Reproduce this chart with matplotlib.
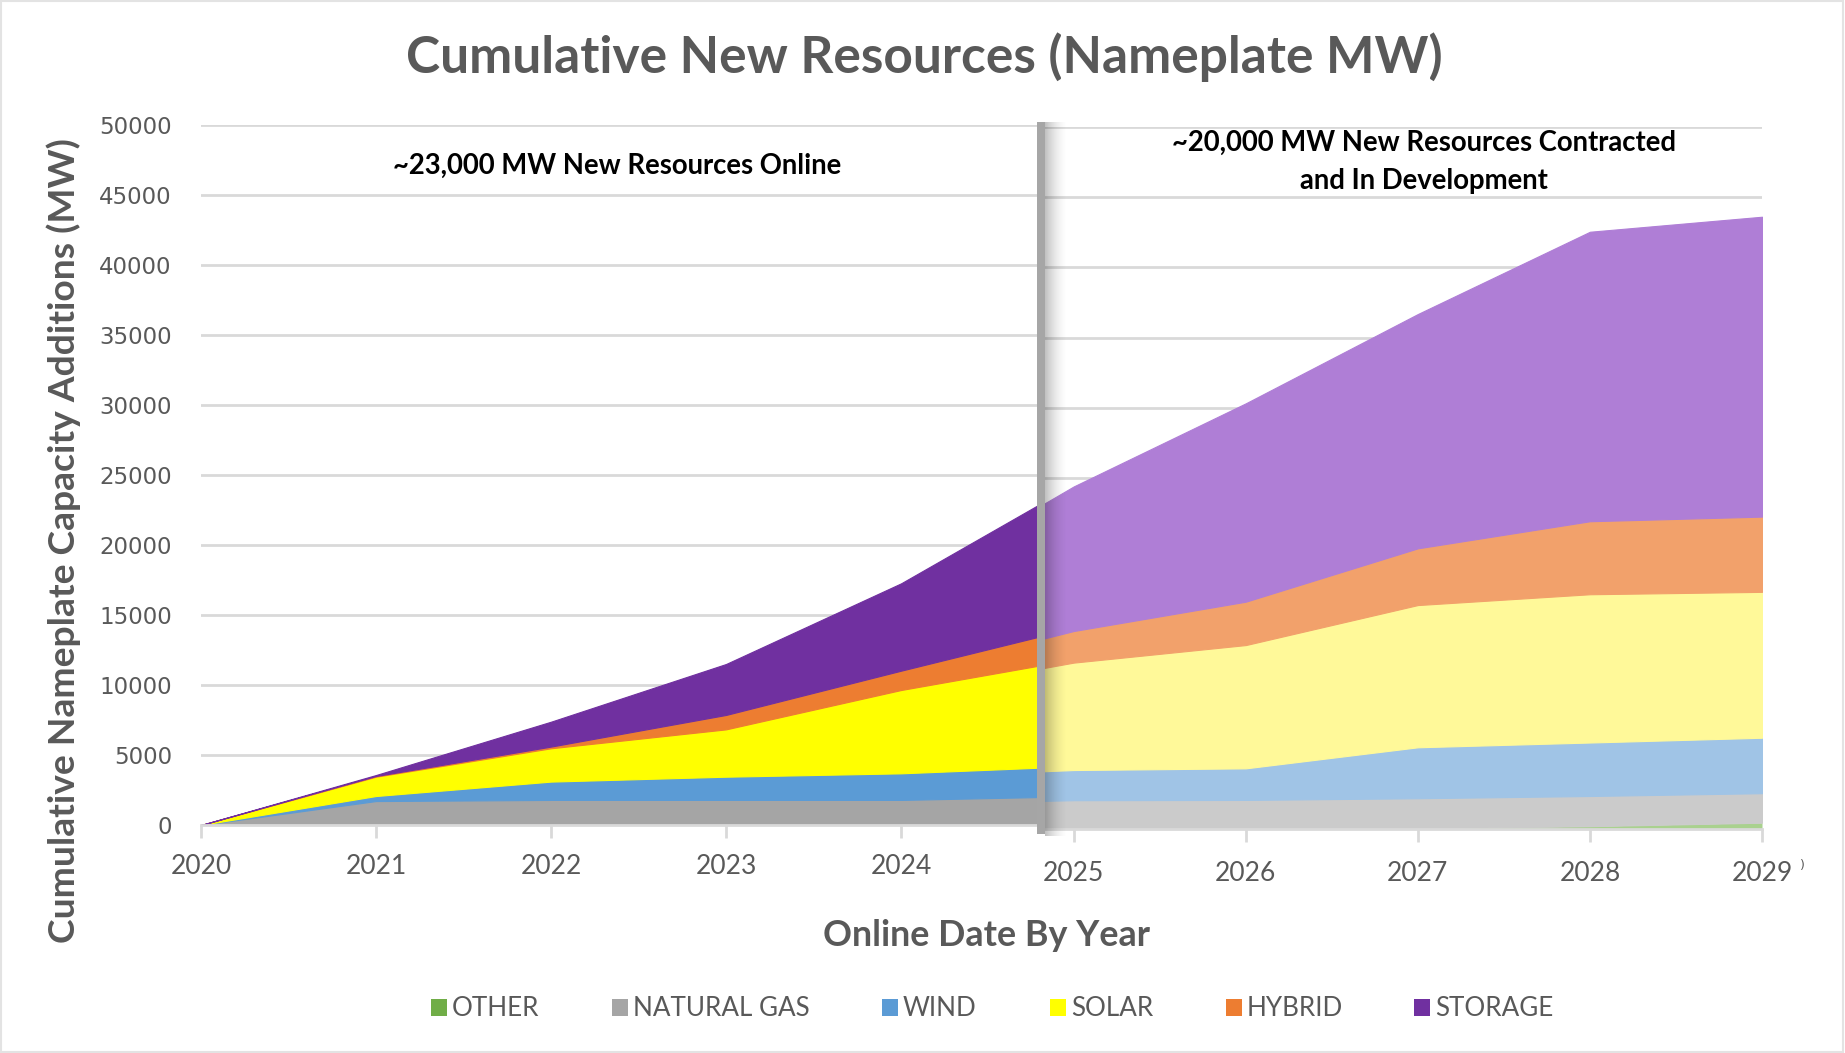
import matplotlib
matplotlib.use("Agg")
import matplotlib.pyplot as plt
from matplotlib.patches import Rectangle

# ---------------- data (MW, cumulative by layer) ----------------
years = [2020, 2021, 2022, 2023, 2024, 2025, 2026, 2027, 2028, 2029]
online_years = [2020, 2021, 2022, 2023, 2024]
development_years = [2025, 2026, 2027, 2028, 2029]
series_names = ["OTHER", "NATURAL GAS", "WIND", "SOLAR", "HYBRID", "STORAGE"]
other = [0, 0, 0, 0, 0, 0, 0, 50, 200, 450]
natural_gas = [0, 1710, 1790, 1790, 1790, 2050, 2070, 2140, 2150, 2100]
wind = [0, 360, 1310, 1660, 1900, 2150, 2250, 3630, 3810, 3950]
solar = [0, 1380, 2380, 3380, 5950, 7650, 8780, 10130, 10560, 10390]
hybrid = [0, 50, 120, 1030, 1380, 2250, 3090, 4040, 5200, 5360]
storage = [0, 70, 1780, 3640, 6240, 10300, 14130, 16690, 20620, 21360]
y_ticks = list(range(0, 50001, 5000))

title = "Cumulative New Resources (Nameplate MW)"
y_label = "Cumulative Nameplate Capacity Additions (MW)"
x_label = "Online Date By Year"
note_online = "~23,000 MW New Resources Online"
note_dev = ["~20,000 MW New Resources Contracted", "and In Development"]

colors_online = ["#70AD47", "#A5A5A5", "#5B9BD5", "#FFFF00", "#ED7D31", "#7030A0"]
colors_dev = ["#A9D18E", "#CBCBCB", "#A0C4E6", "#FFF999", "#F2A16B", "#AF7ED6"]

TXT = "#595959"
GRID = "#D9D9D9"
HEAD_FONT = "Lato"
W, H = 1845, 1053

fig = plt.figure(figsize=(W / 100, H / 100), dpi=100)
fig.patch.set_facecolor("white")
renderer = fig.canvas.get_renderer()


def px_axes(x0, x1, ytop, ybot, **kw):
    return fig.add_axes([x0 / W, 1 - ybot / H, (x1 - x0) / W, (ybot - ytop) / H], **kw)


def fit_size(s, target, family, weight="normal"):
    t = fig.text(0, 0, s, fontsize=20, family=family, weight=weight)
    bb = t.get_window_extent(renderer)
    t.remove()
    return 20 * target / bb.width


def fit_text(cx, cy, s, target, family, weight="normal", color=TXT, rotation=0, ha="center"):
    size = fit_size(s, target, family, weight)
    return fig.text(cx / W, 1 - cy / H, s, fontsize=size, family=family, weight=weight,
                    color=color, ha=ha, va="center", rotation=rotation)


stack = [other, natural_gas, wind, solar, hybrid, storage]

# left (online) and right (in development) panels
ax1 = px_axes(201, 1040, 125, 825)
ax2 = px_axes(1040, 1762, 127, 829)
ax1.set_xlim(2020, 2020 + (1040 - 201) / 175)
ax2.set_xlim(2025 - (1073.7 - 1040) / 172, 2029)

xt_size = fit_size("2020", 61, "Lato")
yt_size = 16.5

for ax, cols, xt, pad in ((ax1, colors_online, online_years, 12),
                          (ax2, colors_dev, development_years, 14)):
    polys = ax.stackplot(years, *stack, colors=cols, labels=series_names)
    for p, c, vals in zip(polys, cols, stack):
        p.set_edgecolor(c)
        p.set_linewidth(0.8 if max(vals[:7]) > 0 else 0)
    ax.set_ylim(0, 50000)
    ax.set_yticks(y_ticks)
    ax.grid(axis="y", color=GRID, lw=2)
    ax.set_axisbelow(True)
    for s in ("top", "right", "left"):
        ax.spines[s].set_visible(False)
    ax.spines["bottom"].set_color(GRID)
    ax.spines["bottom"].set_linewidth(2)
    ax.set_xticks(xt)
    ax.set_xticklabels([str(v) for v in xt])
    ax.tick_params(axis="x", direction="out", length=9, width=2, color=GRID,
                   labelcolor=TXT, labelsize=xt_size, pad=pad)
    for lab in ax.get_xticklabels():
        lab.set_family("Lato")
    ax.tick_params(axis="y", length=0)
    ax.set_facecolor("none")

ax1.tick_params(axis="y", labelcolor=TXT, labelsize=yt_size, pad=21)
ax2.tick_params(axis="y", labelleft=False)
ax2.set_zorder(0)
ax1.set_zorder(1)

# divider bar and its shadow
shadow_w = 22
for i in range(shadow_w):
    a = 0.24 * (1 - i / shadow_w) ** 1.6
    fig.patches.append(Rectangle(((1045 + i) / W, 1 - 836 / H), 1 / W, (836 - 122) / H,
                                 transform=fig.transFigure, facecolor="black", alpha=a,
                                 edgecolor="none", zorder=5))
fig.patches.append(Rectangle((1037 / W, 1 - 834 / H), 8 / W, (834 - 122) / H,
                             transform=fig.transFigure, facecolor="#A6A6A6",
                             edgecolor="none", zorder=6))

# texts
fit_text(924, 57, title, 1034, HEAD_FONT, "bold")
ylab_size = fit_size(y_label, 805, HEAD_FONT, "bold")
fig.text(64 / W, 1 - 541 / H, y_label, fontsize=ylab_size, family=HEAD_FONT,
         weight="bold", color=TXT, rotation=90, ha="center", va="center")
fit_text(987, 935, x_label, 327, HEAD_FONT, "bold")
fit_text(617, 166, note_online, 451, "Lato", "bold", color="black")
dev_size = fit_size(note_dev[0], 507, "Lato", "bold")
for line, cy in zip(note_dev, (143, 181)):
    fig.text(1424 / W, 1 - cy / H, line, fontsize=dev_size, family="Lato", weight="bold",
             color="black", ha="center", va="center")

# legend
leg_size = fit_size("NATURAL GAS", 176, "Lato")
leg_x = [431, 612, 882, 1050, 1226, 1414]
for x, name, c in zip(leg_x, series_names, colors_online):
    fig.patches.append(Rectangle((x / W, 1 - 1016 / H), 16 / W, 17 / H,
                                 transform=fig.transFigure, facecolor=c, edgecolor="none"))
    fig.text((x + 21) / W, 1 - 1008 / H, name, fontsize=leg_size, family="Lato",
             color=TXT, ha="left", va="center")

fig.text(1800 / W, 1 - 866 / H, ")", fontsize=9, color=TXT, ha="left", va="center")

# light frame
fig.patches.append(Rectangle((0.0008, 0.001), 0.998, 0.998, transform=fig.transFigure,
                             facecolor="none", edgecolor="#E3E3E3", lw=1.5))

fig.savefig("out.png", dpi=100, facecolor="white")
